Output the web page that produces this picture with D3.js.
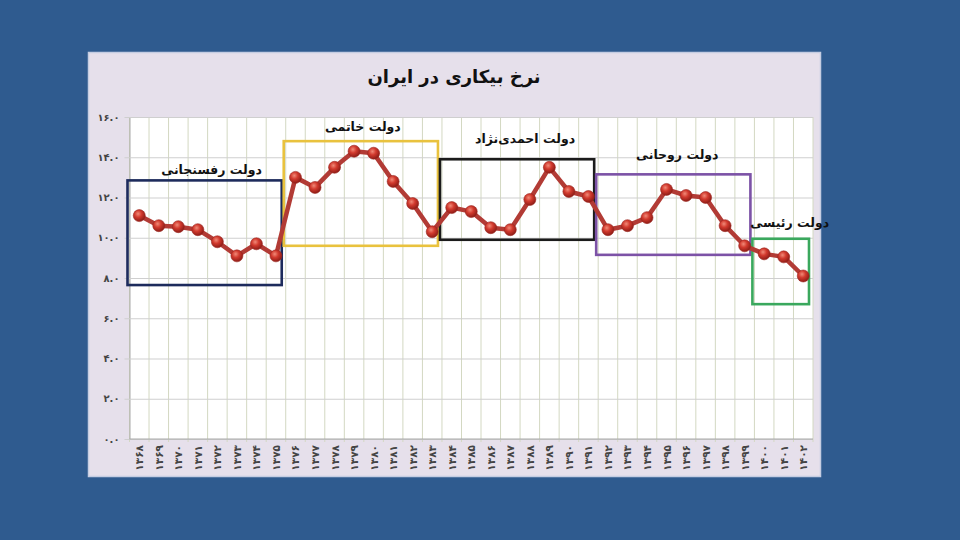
<!DOCTYPE html>
<html><head><meta charset="utf-8">
<script src="https://cdn.jsdelivr.net/npm/d3@7"></script>
<style>html,body{margin:0;padding:0;background:#2f5b8f;} svg{display:block}</style>
</head><body><svg id="c" width="960" height="540"></svg>
<script>
// ---- data ----
const years = [1368,1369,1370,1371,1372,1373,1374,1375,1376,1377,1378,1379,1380,1381,1382,1383,1384,1385,1386,1387,1388,1389,1390,1391,1392,1393,1394,1395,1396,1397,1398,1399,1400,1401,1402];
const rates = [11.1,10.6,10.55,10.4,9.8,9.1,9.7,9.1,13.0,12.5,13.5,14.3,14.2,12.8,11.7,10.3,11.5,11.3,10.5,10.4,11.9,13.5,12.3,12.05,10.4,10.6,11.0,12.4,12.1,12.0,10.6,9.6,9.2,9.05,8.1];
const yTicks = [0,2,4,6,8,10,12,14,16];
const chartTitle = "نرخ بیکاری در ایران";
const govNames = ["دولت رفسنجانی","دولت خاتمی","دولت احمدی‌نژاد","دولت روحانی","دولت رئیسی"];
const govFirstYear = [1368,1376,1384,1392,1400];
const govLastYear = [1375,1383,1391,1399,1402];
const govLow = [7.65,9.6,9.9,9.15,6.7];
const govHigh = [12.85,14.8,13.9,13.15,9.95];

// ---- styles ----
const govColors = ["#1d2b5c","#e9c23e","#1b1b1b","#7c52a6","#3aa85d"];
const labelLift = [6,10,16,15,12];
const labelShift = [4,-1,5,1,6];
const faDigits = "۰۱۲۳۴۵۶۷۸۹";
const fa = s => String(s).replace(/\d/g, d => faDigits[+d]);
const FONT = "'DejaVu Sans', sans-serif";

const svg = d3.select("#c");
svg.append("rect").attr("width",960).attr("height",540).attr("fill","#2f5b8f");
svg.append("rect").attr("x",88.5).attr("y",52.5).attr("width",732).attr("height",424)
  .attr("fill","#e6e0eb").attr("stroke","#c5cde2").attr("stroke-width",1.5);

const m = {l:129.5, r:813, t:117, b:439};
const x = d3.scaleBand().domain(years).range([m.l,m.r]).padding(0);
const y = d3.scaleLinear().domain([0,16]).range([m.b,m.t]);
const cx = d => x(d) + x.bandwidth()/2;

// plot background
svg.append("rect").attr("x",m.l).attr("y",m.t).attr("width",m.r-m.l).attr("height",m.b-m.t).attr("fill","#ffffff");

// vertical grid lines at band edges
const edges = years.map(d => x(d)).concat([m.r]);
svg.append("g").selectAll("line").data(edges).join("line")
  .attr("x1",d=>d).attr("x2",d=>d).attr("y1",m.t).attr("y2",m.b+3)
  .attr("stroke","#d3d8c2").attr("stroke-width",1);

// horizontal grid + y axis
const yAxis = d3.axisLeft(y).tickValues(yTicks).tickFormat(d => fa(d.toFixed(1)))
  .tickSize(-(m.r-m.l)).tickPadding(10);
const gy = svg.append("g").attr("transform",`translate(${m.l},0)`).call(yAxis);
gy.select(".domain").attr("stroke","#a9a9a9");
gy.selectAll(".tick line").attr("stroke","#cfcfcf").attr("x1",-5);
gy.selectAll(".tick text").attr("font-family",FONT).attr("font-size",10).attr("fill","#444").attr("font-weight","bold");

// x axis line
svg.append("line").attr("x1",m.l).attr("x2",m.r).attr("y1",m.b).attr("y2",m.b).attr("stroke","#a9a9a9");
// x labels rotated
svg.append("g").selectAll("text").data(years).join("text")
  .attr("transform",d=>`translate(${cx(d)},445) rotate(-90)`)
  .attr("text-anchor","end").attr("dominant-baseline","central")
  .attr("font-family",FONT).attr("font-size",10.5).attr("font-weight","bold").attr("fill","#444")
  .text(d=>fa(d));

// title
svg.append("text").attr("x",454).attr("y",83).attr("text-anchor","middle")
  .attr("font-family",FONT).attr("font-weight","bold").attr("font-size",18).attr("fill","#111")
  .text(chartTitle);

// government boxes
const govs = govNames.map((n,i)=>({n,i,a:govFirstYear[i],b:govLastYear[i],lo:govLow[i],hi:govHigh[i]}));
const gg = svg.append("g");
gg.selectAll("rect").data(govs).join("rect")
  .attr("x",d=>x(d.a)-2).attr("y",d=>y(d.hi))
  .attr("width",d=>x(d.b)+x.bandwidth()-2-(x(d.a)-2)-2).attr("height",d=>y(d.lo)-y(d.hi))
  .attr("fill","none").attr("stroke",d=>govColors[d.i]).attr("stroke-width",2.6);
gg.selectAll("text").data(govs).join("text")
  .attr("x",d=>(x(d.a)+x(d.b)+x.bandwidth())/2 + labelShift[d.i])
  .attr("y",d=>y(d.hi)-labelLift[d.i])
  .attr("text-anchor","middle")
  .attr("font-family",FONT).attr("font-weight","bold").attr("font-size",12.5).attr("fill","#111")
  .text(d=>d.n);

// gradient for markers
const defs = svg.append("defs");
const rg = defs.append("radialGradient").attr("id","ball").attr("cx","40%").attr("cy","35%").attr("r","65%");
rg.append("stop").attr("offset","0%").attr("stop-color","#f08a78");
rg.append("stop").attr("offset","45%").attr("stop-color","#d23a2e");
rg.append("stop").attr("offset","100%").attr("stop-color","#8e1c16");

// line
const pts = years.map((d,i)=>({yr:d,v:rates[i]}));
svg.append("path").datum(pts)
  .attr("d", d3.line().x(d=>cx(d.yr)).y(d=>y(d.v)))
  .attr("fill","none").attr("stroke","#b23b35").attr("stroke-width",4.5).attr("stroke-linejoin","round");
svg.append("g").selectAll("circle").data(pts).join("circle")
  .attr("cx",d=>cx(d.yr)).attr("cy",d=>y(d.v)).attr("r",6)
  .attr("fill","url(#ball)").attr("stroke","#9a2620").attr("stroke-width",0.6);
</script></body></html>
